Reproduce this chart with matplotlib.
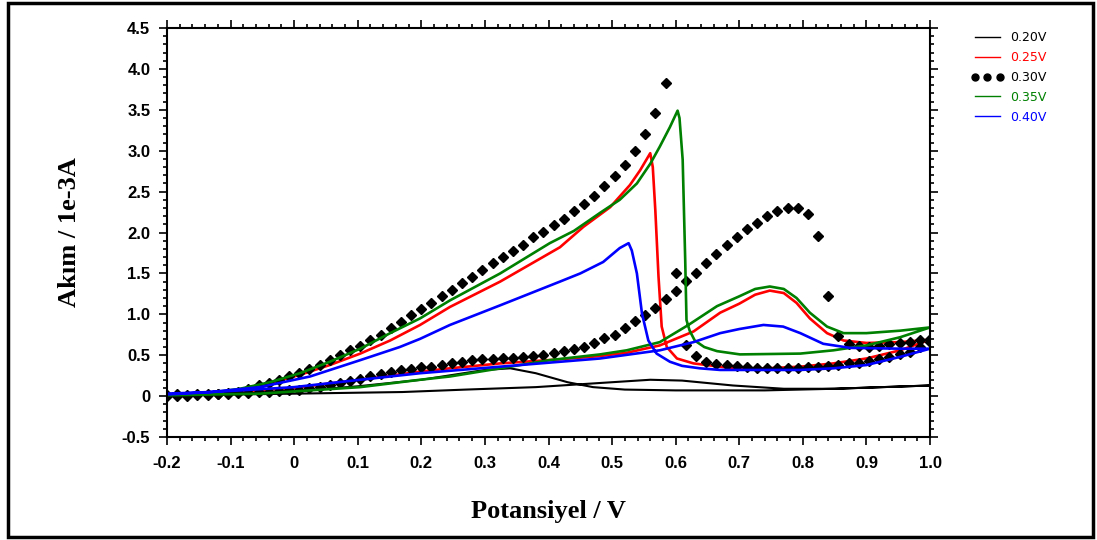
import numpy as np
import matplotlib
matplotlib.use("Agg")
import matplotlib.pyplot as plt
from matplotlib.lines import Line2D
from matplotlib.patches import Rectangle
from matplotlib.ticker import MultipleLocator, FuncFormatter

labels = ["0.20V", "0.25V", "0.30V", "0.35V", "0.40V"]
colors = ["black", "red", "black", "green", "blue"]

# 0.20V - one closed loop (forward then reverse)
e_020 = [-0.2, -0.1, 0.0, 0.1, 0.2, 0.25, 0.30, 0.34, 0.38, 0.43, 0.47, 0.52, 0.60, 0.74, 0.85, 1.0,
         0.85, 0.77, 0.69, 0.61, 0.56, 0.48, 0.38, 0.27, 0.17, 0.0, -0.1, -0.2]
i_020 = [0.02, 0.03, 0.06, 0.12, 0.20, 0.26, 0.32, 0.34, 0.28, 0.17, 0.11, 0.08, 0.07, 0.07, 0.09, 0.13,
         0.09, 0.09, 0.13, 0.19, 0.20, 0.16, 0.11, 0.08, 0.05, 0.03, 0.02, 0.01]

# 0.25V
e_025 = [-0.2, -0.1, 0.0, 0.104, 0.198, 0.245, 0.324, 0.418, 0.481, 0.523, 0.575, 0.628, 0.670, 0.700,
         0.725, 0.748, 0.770, 0.790, 0.811, 0.838, 0.864, 0.900, 0.953, 1.0,
         0.953, 0.900, 0.848, 0.796, 0.743, 0.691, 0.659, 0.628, 0.602, 0.586, 0.578, 0.573, 0.568,
         0.564, 0.560, 0.544, 0.528, 0.497, 0.455, 0.418, 0.324, 0.245, 0.198, 0.151, 0.104, 0.056,
         0.009, -0.038, -0.085, -0.132, -0.2]
i_025 = [0.01, 0.05, 0.10, 0.20, 0.30, 0.34, 0.40, 0.45, 0.49, 0.53, 0.62, 0.79, 1.02, 1.13,
         1.24, 1.29, 1.26, 1.14, 0.95, 0.77, 0.68, 0.65, 0.66, 0.69,
         0.56, 0.46, 0.40, 0.36, 0.34, 0.34, 0.37, 0.40, 0.46, 0.60, 0.85, 1.46, 2.27,
         2.80, 2.97, 2.76, 2.58, 2.31, 2.07, 1.82, 1.40, 1.09, 0.87, 0.68, 0.52, 0.38,
         0.26, 0.16, 0.08, 0.04, 0.02]

# 0.30V - measured points (potential sweep step 16 mV)
e_030 = np.round(np.linspace(-0.2, 1.0, 76), 3)
i_030_fwd = [0.01, 0.02, 0.00, 0.02, 0.01, 0.03, 0.03, 0.04, 0.04, 0.05, 0.05, 0.06, 0.07, 0.08, 0.10,
             0.11, 0.13, 0.16, 0.19, 0.21, 0.24, 0.27, 0.29, 0.32, 0.33, 0.35, 0.36, 0.38, 0.41, 0.42,
             0.44, 0.45, 0.45, 0.46, 0.47, 0.48, 0.49, 0.50, 0.53, 0.55, 0.57, 0.60, 0.65, 0.71, 0.75,
             0.83, 0.92, 0.99, 1.08, 1.19, 1.29, 1.41, 1.51, 1.63, 1.74, 1.85, 1.95, 2.04, 2.12, 2.20,
             2.26, 2.30, 2.30, 2.23, 1.96, 1.22, 0.74, 0.64, 0.61, 0.60, 0.61, 0.64, 0.65, 0.66, 0.68,
             0.70]
i_030_rev = [0.00, 0.00, 0.01, 0.01, 0.02, 0.03, 0.04, 0.05, 0.09, 0.13, 0.16, 0.20, 0.24, 0.28, 0.33,
             0.38, 0.44, 0.50, 0.56, 0.61, 0.68, 0.75, 0.83, 0.91, 0.99, 1.06, 1.14, 1.22, 1.30, 1.38,
             1.46, 1.54, 1.63, 1.70, 1.78, 1.85, 1.94, 2.01, 2.09, 2.17, 2.26, 2.35, 2.45, 2.57, 2.69,
             2.82, 3.00, 3.20, 3.46, 3.83, 1.51, 0.62, 0.49, 0.42, 0.39, 0.38, 0.37, 0.36, 0.34, 0.34,
             0.34, 0.34, 0.34, 0.35, 0.36, 0.37, 0.38, 0.40, 0.41, 0.43, 0.45, 0.48, 0.51, 0.54, 0.60,
             0.66]

# 0.35V
e_035 = [-0.2, -0.132, -0.054, 0.025, 0.104, 0.198, 0.245, 0.324, 0.402, 0.481, 0.523, 0.575, 0.620,
         0.665, 0.700, 0.725, 0.748, 0.770, 0.790, 0.811, 0.838, 0.864, 0.900, 0.953, 1.0,
         0.953, 0.900, 0.848, 0.796, 0.701, 0.665, 0.645, 0.630, 0.622, 0.617, 0.615, 0.611, 0.606,
         0.603, 0.591, 0.575, 0.560, 0.539, 0.512, 0.481, 0.440, 0.402, 0.324, 0.245, 0.198, 0.151,
         0.104, 0.056, 0.009, -0.038, -0.085, -0.132, -0.2]
i_035 = [0.01, 0.02, 0.03, 0.07, 0.11, 0.20, 0.24, 0.34, 0.44, 0.51, 0.56, 0.66, 0.87,
         1.10, 1.22, 1.31, 1.34, 1.31, 1.20, 1.02, 0.85, 0.77, 0.77, 0.80, 0.84,
         0.72, 0.62, 0.56, 0.52, 0.51, 0.55, 0.60, 0.68, 0.80, 0.93, 1.66, 2.89, 3.40,
         3.49, 3.29, 3.05, 2.84, 2.60, 2.40, 2.24, 2.02, 1.87, 1.50, 1.17, 0.95, 0.77,
         0.58, 0.42, 0.28, 0.17, 0.09, 0.04, 0.02]

# 0.40V
e_040 = [-0.2, -0.106, 0.0, 0.104, 0.198, 0.324, 0.418, 0.481, 0.575, 0.628, 0.670, 0.700, 0.738,
         0.769, 0.796, 0.832, 0.874, 0.953, 1.0,
         0.953, 0.900, 0.848, 0.796, 0.743, 0.670, 0.638, 0.610, 0.591, 0.570, 0.557, 0.547, 0.539,
         0.531, 0.526, 0.512, 0.486, 0.450, 0.418, 0.324, 0.245, 0.198, 0.166, 0.104, 0.025, -0.054,
         -0.132, -0.2]
i_040 = [0.02, 0.06, 0.11, 0.20, 0.28, 0.36, 0.42, 0.46, 0.56, 0.66, 0.77, 0.82, 0.87,
         0.85, 0.77, 0.64, 0.59, 0.58, 0.58,
         0.48, 0.38, 0.34, 0.32, 0.32, 0.32, 0.34, 0.37, 0.42, 0.52, 0.68, 1.01, 1.50,
         1.78, 1.87, 1.81, 1.64, 1.50, 1.40, 1.11, 0.87, 0.70, 0.60, 0.44, 0.24, 0.11,
         0.05, 0.03]


def tick_text(v, pos):
    if abs(v) < 1e-9:
        return "0"
    return "%.1f" % v


def setup_axes(ax):
    ax.set_xlim(-0.2, 1.0)
    ax.set_ylim(-0.5, 4.5)
    ax.xaxis.set_major_locator(MultipleLocator(0.1))
    ax.xaxis.set_minor_locator(MultipleLocator(0.02))
    ax.yaxis.set_major_locator(MultipleLocator(0.5))
    ax.yaxis.set_minor_locator(MultipleLocator(0.1))
    ax.xaxis.set_major_formatter(FuncFormatter(tick_text))
    ax.yaxis.set_major_formatter(FuncFormatter(tick_text))
    ax.tick_params(which="both", direction="out", top=True, right=True, width=1.2)
    ax.tick_params(which="major", length=6)
    ax.tick_params(which="minor", length=3)
    ax.tick_params(axis="x", pad=8)
    ax.tick_params(axis="y", pad=6)
    for lab in ax.get_xticklabels() + ax.get_yticklabels():
        lab.set_family(["Liberation Sans Narrow", "Liberation Sans"])
        lab.set_fontweight("bold")
        lab.set_fontsize(12)
    for sp in ax.spines.values():
        sp.set_linewidth(1.5)
    ax.set_xlabel("Potansiyel / V", family="Liberation Serif", fontweight="bold", fontsize=19)
    ax.set_ylabel("Akım / 1e-3A", family="Liberation Serif", fontweight="bold", fontsize=19)
    ax.xaxis.set_label_coords(0.5, -0.155)
    ax.yaxis.set_label_coords(-0.113, 0.5)


def main():
    fig = plt.figure(figsize=(10.97, 5.40), dpi=100)
    ax = fig.add_axes([0.1522, 0.1907, 0.6956, 0.7574])

    ax.plot(e_020, i_020, color="black", lw=1.5)
    ax.plot(e_025, i_025, color="red", lw=1.9)
    ax.plot(e_030, i_030_fwd, ls="none", marker="D", ms=4.6, color="black")
    ax.plot(e_030, i_030_rev, ls="none", marker="D", ms=4.6, color="black")
    ax.plot(e_035, i_035, color="green", lw=1.9)
    ax.plot(e_040, i_040, color="blue", lw=1.9)

    setup_axes(ax)

    handles = [
        Line2D([], [], color="black", lw=1),
        Line2D([], [], color="red", lw=1),
        Line2D([], [], color="black", ls="none", marker="o", ms=5),
        Line2D([], [], color="green", lw=1),
        Line2D([], [], color="blue", lw=1),
    ]
    leg = fig.legend(handles, labels, loc="upper left", bbox_to_anchor=(0.875, 0.963),
                     frameon=False, fontsize=9, numpoints=3, handlelength=2.6,
                     handletextpad=0.5, labelspacing=0.55)
    for t, c in zip(leg.get_texts(), colors):
        t.set_color(c)

    fig.patches.append(Rectangle((0.007, 0.006), 0.989, 0.989, transform=fig.transFigure,
                                 fill=False, lw=2.5, ec="black"))
    fig.savefig("out.png", dpi=100)


main()
